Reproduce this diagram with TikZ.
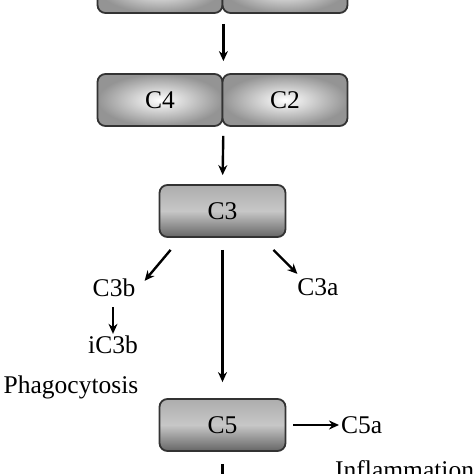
\documentclass[tikz,border=0pt]{standalone}
\usepackage{fontspec}
\setmainfont{Liberation Serif}
\usetikzlibrary{arrows.meta}

\tikzset{
  pairbox/.style={draw=black!80, line width=1.8pt, rounded corners=8pt, minimum width=125pt, minimum height=52pt, inner color=white, outer color=black!42},
  stagebox/.style={draw=black!80, line width=1.8pt, rounded corners=8pt, minimum width=126pt, minimum height=52pt, top color=black!32, bottom color=black!60, middle color=black!22},
  arr/.style={line width=2.4pt, -{Stealth[length=10pt,width=9pt]}},
  lbl/.style={font=\fontsize{25.5}{30}\selectfont, inner sep=2pt}
}

\begin{document}
\begin{tikzpicture}[x=1pt, y=1pt]
            \useasboundingbox (0, 0) rectangle (474, 474);
            \clip (0, 0) rectangle (474, 474);
            \node[pairbox] (topl) at (160, 487) {};
            \node[pairbox] (topr) at (285, 487) {};
            \node[pairbox, lbl, minimum width=125pt] (c4) at (160, 374) {C4};
            \node[pairbox, lbl, minimum width=125pt] (c2) at (285, 374) {C2};
            \node[stagebox, lbl] (c3) at (222.5, 263) {C3};
            \node[stagebox, lbl] (c5) at (222.5, 49) {C5};
            \node[lbl] (c3b) at (114, 186) {C3b};
            \node[lbl] (c3a) at (318, 187) {C3a};
            \node[lbl] (ic3b) at (113, 129) {iC3b};
            \node[lbl] (phago) at (71, 87) {Phagocytosis};
            \node[lbl, anchor=west] (c5a) at (339, 49) {C5a};
            \node[lbl, anchor=base west] (inflam) at (333, -5) {Inflammation};
            \coordinate (cut) at (222.5, -20);
            \draw[arr, shorten <=10pt, shorten >=12pt](topl.south east)--(c4.north east);
            \draw[arr, shorten <=9pt, shorten >=9pt](c4.south east)--(c3.north);
            \draw[arr]([xshift=12pt, yshift=-12pt]c3.south west)--([xshift=-14pt, yshift=-4pt]c3.south west |- c3b.north east);
            \draw[arr]([xshift=-13pt, yshift=-12pt]c3.south east)--([xshift=11pt, yshift=-36pt]c3.south east);
            \draw[arr, shorten <=12pt, shorten >=16pt](c3.south)--(c5.north);
            \draw[arr]([yshift=-8pt]c3b.south -| ic3b)--(ic3b.north);
            \draw[arr, shorten <=7pt](c5.east)--(c5a.west);
            \draw[line width=2.4pt, shorten <=12pt](c5.south)--(cut);
        \end{tikzpicture}
\end{document}
